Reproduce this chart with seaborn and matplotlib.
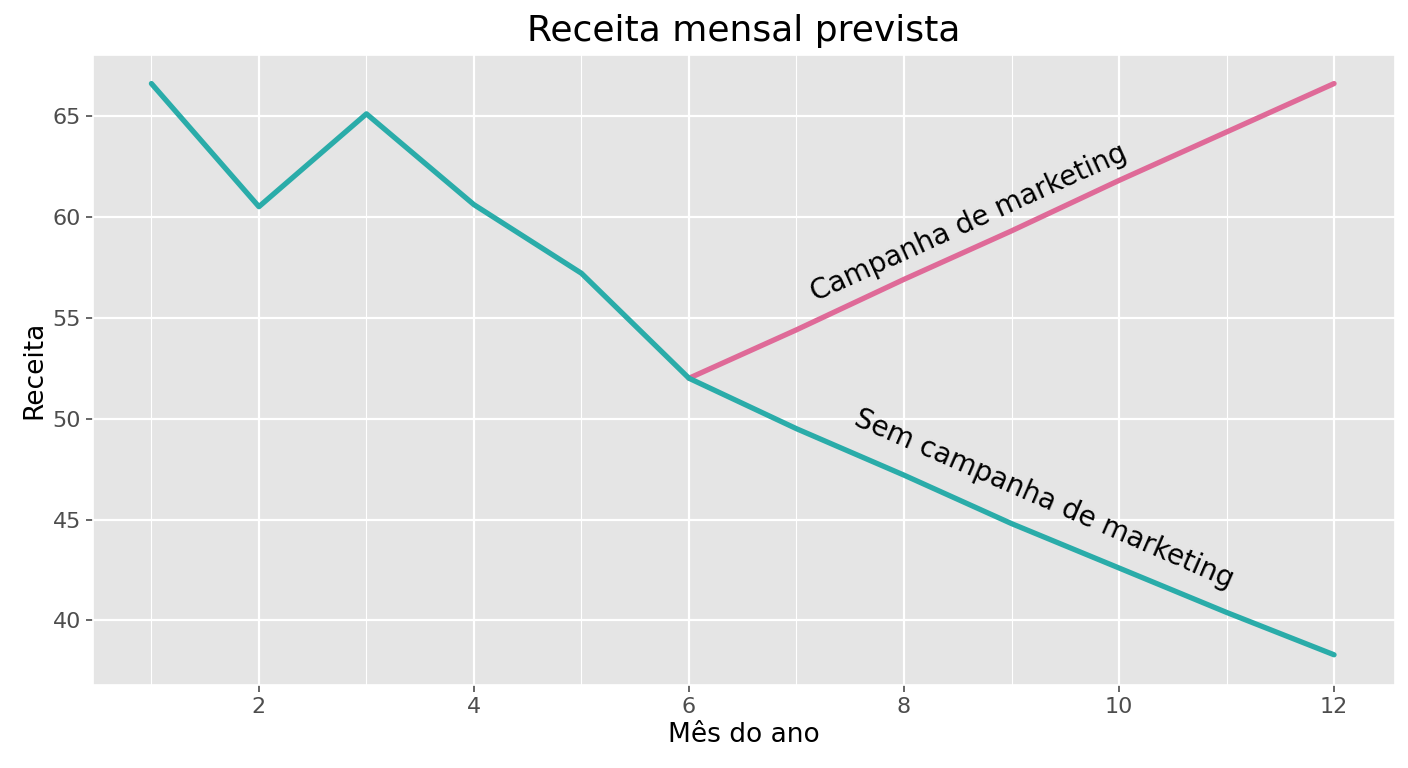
import numpy as np
import pandas as pd
import seaborn as sns
import matplotlib.pyplot as plt
from matplotlib.ticker import MultipleLocator

# === Data ===
months_hist = [1, 2, 3, 4, 5, 6]
revenue_hist = [66.6, 60.5, 65.1, 60.6, 57.2, 52.0]
months_fc = [6, 7, 8, 9, 10, 11, 12]
revenue_no_campaign = [52.0, 49.5, 47.2, 44.8, 42.6, 40.4, 38.3]
revenue_campaign = [52.0, 54.4, 56.9, 59.3, 61.8, 64.2, 66.6]

TEAL = "#2aaca9"
PINK = "#df6a98"

sns.set_theme(style="darkgrid", rc={"axes.facecolor": "#e5e5e5", "grid.color": "white"})
plt.rcParams['font.family'] = ['DejaVu Sans']

fig, ax = plt.subplots(figsize=(14.08, 7.68), dpi=100)
sns.lineplot(x=months_fc, y=revenue_campaign, color=PINK, lw=3.8, ax=ax)
sns.lineplot(x=months_hist + months_fc[1:], y=revenue_hist + revenue_no_campaign[1:],
             color=TEAL, lw=3.8, ax=ax)

ax.set_xlim(0.456, 12.57)
ax.set_ylim(36.8, 68.0)
ax.xaxis.set_major_locator(MultipleLocator(2))
ax.xaxis.set_minor_locator(MultipleLocator(1))
ax.yaxis.set_major_locator(MultipleLocator(5))
ax.grid(which="major", color="white", lw=1.6)
ax.grid(which="minor", axis="x", color="white", lw=0.8)
ax.tick_params(labelsize=16, colors="#4d4d4d", length=5, width=1.2, which="major",
               bottom=True, left=True)
ax.tick_params(which="minor", bottom=False)

ax.text(8.6, 59.7, "Campanha de marketing", rotation=24.5, fontsize=20,
        ha="center", va="center", rotation_mode="anchor", color="black")
ax.text(9.3, 46.0, "Sem campanha de marketing", rotation=-23.5, fontsize=20,
        ha="center", va="center", rotation_mode="anchor", color="black")

ax.set_title("Receita mensal prevista", fontsize=26, pad=10, color="black")
ax.set_xlabel("Mês do ano", fontsize=19, color="black")
ax.set_ylabel("Receita", fontsize=19, color="black")

fig.subplots_adjust(left=0.066, right=0.991, top=0.928, bottom=0.108)
fig.savefig("out.png")
